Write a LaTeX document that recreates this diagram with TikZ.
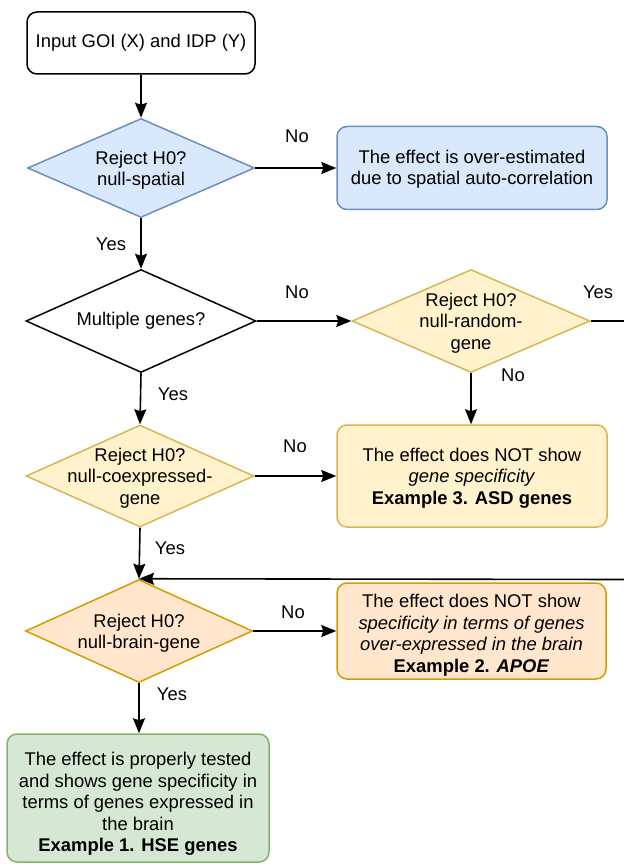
\documentclass[tikz,border=0pt]{standalone}
\usepackage{fontspec}
\setmainfont{Liberation Sans}
\usetikzlibrary{shapes.geometric,arrows.meta}
\definecolor{bluefill}{HTML}{DAE8FC}\definecolor{bluedraw}{HTML}{6C8EBF}
\definecolor{yelfill}{HTML}{FFF2CC}\definecolor{yeldraw}{HTML}{D6B656}
\definecolor{orfill}{HTML}{FFE6CC}\definecolor{ordraw}{HTML}{D79B00}
\definecolor{grfill}{HTML}{D5E8D4}\definecolor{grdraw}{HTML}{82B366}
\tikzset{
  txt/.style={font=\fontsize{18.4}{21.5}\selectfont, align=center, inner sep=0pt},
  rbox/.style={draw, rounded corners=10pt, line width=1.5pt, inner sep=0pt},
  dia/.style={diamond, draw, line width=1.5pt, inner sep=0pt},
  conn/.style={line width=1.6pt, -{Stealth[length=15pt,width=12pt,inset=2pt]}},
  plain/.style={line width=1.6pt},
  lbl/.style={font=\fontsize{18.4}{21.5}\selectfont, inner sep=0pt},
}
\begin{document}
\begin{tikzpicture}[x=1pt,y=-1pt]
\useasboundingbox (0,0) rectangle (623,866);
% shapes
\node[rbox, fill=white, minimum width=228pt, minimum height=62pt] (in) at (141,43) {};
\node[txt] (intxt) at (in) {Input GOI (X) and IDP (Y)};

\node[dia, fill=bluefill, draw=bluedraw, minimum width=227pt, minimum height=99pt] (d1) at (141,168) {};
\node[txt] (d1t) at ([yshift=-2pt]d1) {Reject H0?\\null-spatial};

\node[rbox, fill=bluefill, draw=bluedraw, minimum width=270pt, minimum height=83pt] (b1) at (472,168) {};
\node[txt] (b1t) at ([yshift=-1pt]b1) {The effect is over-estimated\\due to spatial auto-correlation};

\node[dia, fill=white, draw=black, minimum width=230pt, minimum height=103pt] (d2) at (141,321) {};
\node[txt] (d2t) at (d2) {Multiple genes?};

\node[dia, fill=yelfill, draw=yeldraw, minimum width=238pt, minimum height=103pt] (d3) at (471,321) {};
\node[txt] (d3t) at ([yshift=-2pt]d3) {Reject H0?\\null-random-\\gene};

\node[dia, fill=yelfill, draw=yeldraw, minimum width=228pt, minimum height=102pt] (d4) at (140,476) {};
\node[txt] (d4t) at ([yshift=-2pt]d4) {Reject H0?\\null-coexpressed-\\gene};

\node[rbox, fill=yelfill, draw=yeldraw, minimum width=270pt, minimum height=102pt] (b3) at (472,476) {};
\node[txt] (b3t) at ([yshift=-2pt]b3) {The effect does NOT show\\\textit{gene specificity}\\\textbf{Example 3. ASD genes}};

\node[dia, fill=orfill, draw=ordraw, minimum width=227pt, minimum height=103pt] (d5) at (139,631) {};
\node[txt] (d5t) at ([yshift=-2pt]d5) {Reject H0?\\null-brain-gene};

\node[rbox, fill=orfill, draw=ordraw, minimum width=269pt, minimum height=96pt] (b2) at (471.5,631) {};
\node[txt] (b2t) at ([yshift=-4pt]b2) {The effect does NOT show\\\textit{specificity in terms of genes}\\\textit{over-expressed in the brain}\\\textbf{Example 2. \textit{APOE}}};

\node[rbox, fill=grfill, draw=grdraw, minimum width=262pt, minimum height=128pt] (b4) at (138,798) {};
\node[txt] (b4t) at ([yshift=-6pt]b4) {The effect is properly tested\\and shows gene specificity in\\terms of genes expressed in\\the brain\\\textbf{Example 1. HSE genes}};

% edge coordinates
\coordinate (e1) at (626,321);
\coordinate (e2) at (626,579.5);

% connectors
\draw[conn] (in) -- (d1);
\draw[conn] (d1) -- (b1);
\draw[conn] (d1) -- (d2);
\draw[conn] (d2) -- (d3);
\draw[plain] (d3.east) -- (e1);
\draw[conn] (d3) -- (d3 |- b3.north);
\draw[conn] (d2.south) -- (d4.north);
\draw[conn] (d4) -- (b3);
\draw[conn] (d4.south) -- (d5.north);
\draw[conn] (e2) -- (d5.north);
\draw[conn] (d5) -- (b2);
\draw[conn] (d5.south) -- (d5.south |- b4.north);

% labels
\node[lbl] (l1) at (297,136) {No};
\node[lbl] (l2) at (111,244) {Yes};
\node[lbl] (l3) at (297,292) {No};
\node[lbl] (l4) at (598,292) {Yes};
\node[lbl] (l5) at (513,375) {No};
\node[lbl] (l6) at (173,394) {Yes};
\node[lbl] (l7) at (295,446) {No};
\node[lbl] (l8) at (170,548) {Yes};
\node[lbl] (l9) at (293,612) {No};
\node[lbl] (l10) at (172,694) {Yes};
\end{tikzpicture}
\end{document}
